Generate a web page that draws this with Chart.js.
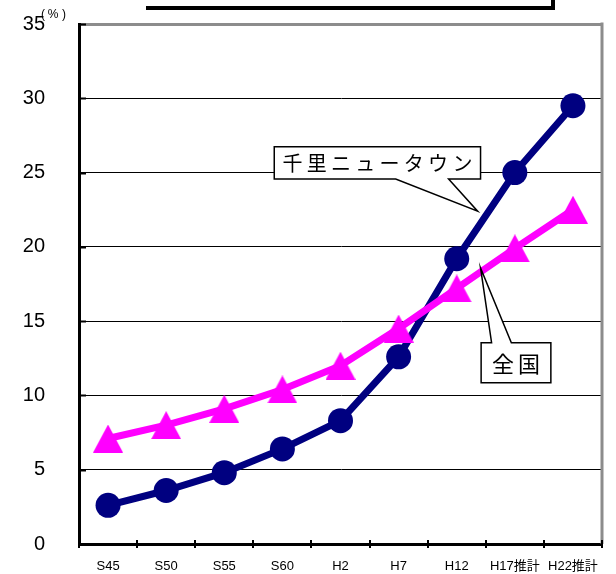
<!DOCTYPE html>
<html>
<head>
<meta charset="utf-8">
<script src="https://cdn.jsdelivr.net/npm/chart.js@4"></script>
<style>
  html, body { margin: 0; padding: 0; background: #ffffff; }
  #wrap { width: 616px; height: 574px; }
</style>
</head>
<body>
<div id="wrap"><canvas id="c" width="616" height="574"></canvas></div>
<script>
// Survey years (Showa / Heisei), projections marked 推計
const years = ['S45', 'S50', 'S55', 'S60', 'H2', 'H7', 'H12', 'H17推計', 'H22推計'];
// Share of population aged 65+ (%)
const senriNewTown = [2.6, 3.6, 4.8, 6.4, 8.3, 12.6, 19.2, 25.0, 29.5];
const nationwide = [7.1, 8.0, 9.1, 10.4, 12.0, 14.5, 17.2, 19.9, 22.5];
const yTicks = [0, 5, 10, 15, 20, 25, 30, 35];
const seriesNames = ['千里ニュータウン', '全国'];

const NAVY = '#000080';
const MAGENTA = '#FF00FF';
const LATIN = '"Liberation Sans", Arial, "Noto Sans CJK JP", sans-serif';
const CJK = '"Noto Sans CJK JP", "Liberation Sans", sans-serif';

// Triangle marker whose bounding box is centred on the data point
function triangleMarker(w, h, color) {
  const cv = document.createElement('canvas');
  cv.width = w; cv.height = h;
  const g = cv.getContext('2d');
  g.fillStyle = color;
  g.beginPath();
  g.moveTo(w / 2, 0);
  g.lineTo(w, h);
  g.lineTo(0, h);
  g.closePath();
  g.fill();
  return cv;
}
const tri = triangleMarker(30, 28, MAGENTA);

// Callout balloons, placed in axis units (category index, percent)
const callouts = [
  {
    text: seriesNames[0], font: '20px ' + CJK, textWidth: 190,
    box: { x0: 2.86, x1: 6.41, yTop: 26.74, yBot: 24.57 },
    edge: 'bottom', base: [4.95, 5.86], tip: [6.36, 22.4]
  },
  {
    text: seriesNames[1], font: '22px ' + CJK, textWidth: 48,
    box: { x0: 6.42, x1: 7.62, yTop: 13.55, yBot: 10.86 },
    edge: 'top', base: [6.6, 6.94], tip: [6.41, 18.58]
  }
];

const frame = {
  id: 'frame',
  beforeDatasetsDraw(chart) {
    const { ctx, chartArea: a, scales: { x, y } } = chart;
    ctx.save();
    // right border
    ctx.strokeStyle = '#8c8c8c';
    ctx.lineWidth = 3;
    ctx.beginPath();
    ctx.moveTo(a.right, a.top - 1.5);
    ctx.lineTo(a.right, a.bottom);
    ctx.stroke();
    // x tick marks at category boundaries
    ctx.strokeStyle = '#000';
    ctx.lineWidth = 2;
    const step = x.getPixelForValue(1) - x.getPixelForValue(0);
    for (let i = 0; i <= years.length; i++) {
      const px = Math.round(x.getPixelForValue(i) - step / 2);
      ctx.beginPath();
      ctx.moveTo(px, a.bottom - 4);
      ctx.lineTo(px, a.bottom + 4);
      ctx.stroke();
    }
    // short inner y tick marks
    ctx.lineWidth = 2;
    yTicks.forEach(v => {
      const py = Math.round(y.getPixelForValue(v)) + 0.5;
      ctx.beginPath();
      ctx.moveTo(a.left, py);
      ctx.lineTo(a.left + 7, py);
      ctx.stroke();
    });
    ctx.restore();
  },
  afterDraw(chart) {
    const { ctx, scales: { x, y } } = chart;
    ctx.save();
    // bottom edge of the heading frame
    ctx.fillStyle = '#000';
    ctx.fillRect(146, 6, 409, 4);
    ctx.fillRect(551, 0, 4, 10);
    // unit label, spaced out
    ctx.font = '12px ' + LATIN;
    ctx.textAlign = 'center';
    ctx.textBaseline = 'middle';
    ctx.fillText('(', 43, 15);
    ctx.fillText('%', 53, 15);
    ctx.fillText(')', 64, 15);

    // balloons
    callouts.forEach(c => {
      const L = x.getPixelForValue(c.box.x0), R = x.getPixelForValue(c.box.x1);
      const T = y.getPixelForValue(c.box.yTop), B = y.getPixelForValue(c.box.yBot);
      const b0 = x.getPixelForValue(c.base[0]), b1 = x.getPixelForValue(c.base[1]);
      const tx = x.getPixelForValue(c.tip[0]), ty = y.getPixelForValue(c.tip[1]);
      ctx.beginPath();
      ctx.moveTo(L, T);
      if (c.edge === 'top') {
        ctx.lineTo(b0, T); ctx.lineTo(tx, ty); ctx.lineTo(b1, T);
      }
      ctx.lineTo(R, T);
      ctx.lineTo(R, B);
      if (c.edge === 'bottom') {
        ctx.lineTo(b1, B); ctx.lineTo(tx, ty); ctx.lineTo(b0, B);
      }
      ctx.lineTo(L, B);
      ctx.closePath();
      ctx.fillStyle = '#fff';
      ctx.fill();
      ctx.strokeStyle = '#000';
      ctx.lineWidth = 1.5;
      ctx.stroke();

      ctx.font = c.font;
      ctx.fillStyle = '#000';
      ctx.textBaseline = 'middle';
      ctx.textAlign = 'left';
      const chars = [...c.text];
      const w = chars.reduce((s, ch) => s + ctx.measureText(ch).width, 0);
      const gap = chars.length > 1 ? (c.textWidth - w) / (chars.length - 1) : 0;
      let cx = (L + R) / 2 - c.textWidth / 2;
      const cy = (T + B) / 2 + 1;
      chars.forEach(ch => {
        ctx.fillText(ch, cx, cy);
        cx += ctx.measureText(ch).width + gap;
      });
    });
    ctx.restore();
  }
};

new Chart(document.getElementById('c'), {
  type: 'line',
  data: {
    labels: years,
    datasets: [
      {
        label: seriesNames[1],
        data: nationwide,
        borderColor: MAGENTA,
        backgroundColor: MAGENTA,
        borderWidth: 7,
        pointStyle: tri,
        pointRadius: 14,
        pointBorderWidth: 0,
        tension: 0
      },
      {
        label: seriesNames[0],
        data: senriNewTown,
        borderColor: NAVY,
        backgroundColor: NAVY,
        borderWidth: 7,
        pointStyle: 'circle',
        pointRadius: 12.5,
        pointBorderWidth: 0,
        tension: 0
      }
    ]
  },
  options: {
    responsive: false,
    animation: false,
    events: [],
    layout: { padding: { top: 24, right: 12, left: 0, bottom: 0 } },
    plugins: { legend: { display: false }, tooltip: { enabled: false } },
    scales: {
      x: {
        type: 'category',
        offset: true,
        grid: { display: false, drawTicks: false },
        border: { display: true, color: '#000', width: 3 },
        ticks: {
          font: { family: LATIN, size: 13 },
          color: '#000',
          padding: 15,
          autoSkip: false,
          maxRotation: 0
        },
        afterFit(s) { s.height = 30; s.paddingLeft = 0; s.paddingRight = 0; }
      },
      y: {
        min: 0,
        max: 35,
        afterBuildTicks(s) { s.ticks = yTicks.map(v => ({ value: v })); },
        grid: {
          drawTicks: false,
          color: c => (c.tick && c.tick.value === 35 ? '#8c8c8c' : '#000'),
          lineWidth: c => (c.tick && c.tick.value === 35 ? 3 : (c.tick && c.tick.value === 0 ? 0 : 1))
        },
        border: { display: true, color: '#000', width: 3 },
        ticks: {
          font: { family: LATIN, size: 20 },
          color: '#000',
          padding: 34
        },
        afterFit(s) { s.width = 79; s.paddingTop = 0; s.paddingBottom = 0; }
      }
    }
  },
  plugins: [frame]
});
</script>
</body>
</html>
